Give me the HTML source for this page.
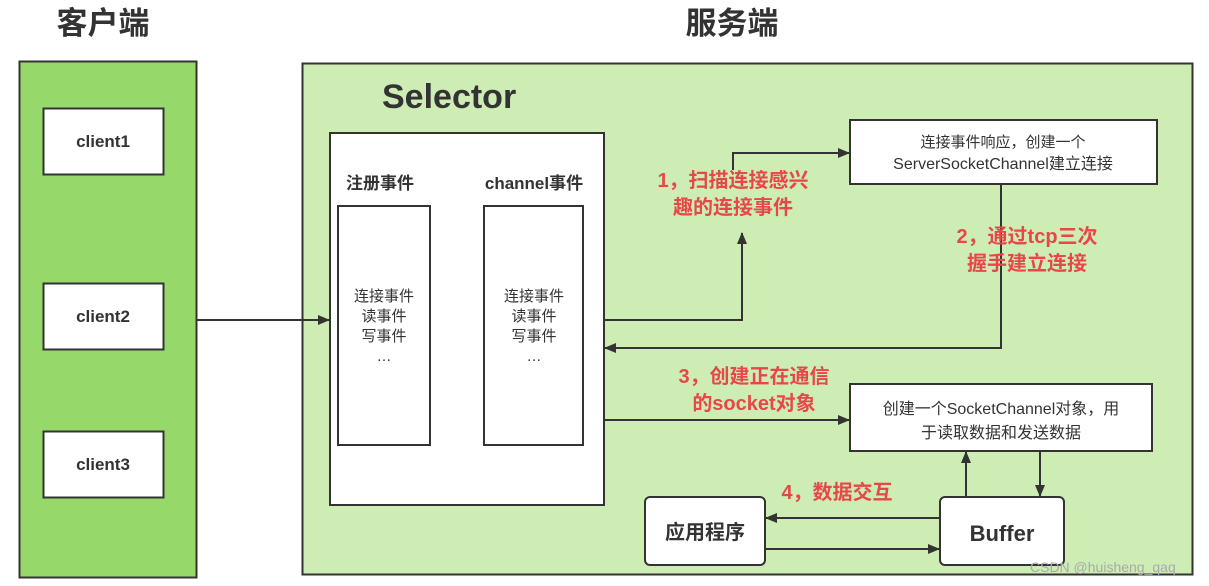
<!DOCTYPE html>
<html><head><meta charset="utf-8"><style>
html,body{margin:0;padding:0;background:#fff;}
svg{display:block;font-family:"Liberation Sans","Noto Sans CJK SC",sans-serif;}
</style></head><body>
<svg width="1209" height="586" viewBox="0 0 1209 586" xmlns="http://www.w3.org/2000/svg">
<defs><marker id="a" markerWidth="12" markerHeight="10" refX="11" refY="5" orient="auto" markerUnits="userSpaceOnUse"><path d="M0,0 L12,5 L0,10 z" fill="#333"/></marker></defs>
<g font-weight="bold" fill="#333">
<text x="103" y="34" font-size="31" text-anchor="middle">客户端</text>
<text x="732" y="34" font-size="31" text-anchor="middle">服务端</text>
</g>
<rect x="19.5" y="61.5" width="177" height="516" fill="#97d86a" stroke="#333" stroke-width="2"/>
<g fill="#fff" stroke="#333" stroke-width="2">
<rect x="43.5" y="108.5" width="120" height="66"/>
<rect x="43.5" y="283.5" width="120" height="66"/>
<rect x="43.5" y="431.5" width="120" height="66"/>
</g>
<g font-size="17" font-weight="bold" fill="#333" text-anchor="middle">
<text x="103" y="147">client1</text><text x="103" y="322">client2</text><text x="103" y="470">client3</text>
</g>
<rect x="302.5" y="63.5" width="890" height="511" fill="#cdedb4" stroke="#333" stroke-width="2"/>
<text x="382" y="108" font-size="34" font-weight="bold" fill="#333">Selector</text>
<rect x="330" y="133" width="274" height="372" fill="#fff" stroke="#333" stroke-width="2"/>
<text x="380" y="189" font-size="17" font-weight="bold" fill="#333" text-anchor="middle">注册事件</text>
<text x="534" y="189" font-size="17" font-weight="bold" fill="#333" text-anchor="middle">channel事件</text>
<rect x="338" y="206" width="92" height="239" fill="#fff" stroke="#333" stroke-width="2"/>
<rect x="484" y="206" width="99" height="239" fill="#fff" stroke="#333" stroke-width="2"/>
<g font-size="15" fill="#333" text-anchor="middle">
<text x="384" y="301">连接事件</text><text x="384" y="321">读事件</text><text x="384" y="341">写事件</text><text x="384" y="361">…</text>
<text x="534" y="301">连接事件</text><text x="534" y="321">读事件</text><text x="534" y="341">写事件</text><text x="534" y="361">…</text>
</g>
<rect x="850" y="120" width="307" height="64" fill="#fff" stroke="#333" stroke-width="2"/>
<text x="1003" y="147" font-size="15" fill="#333" text-anchor="middle">连接事件响应，创建一个</text>
<text x="1003" y="169" font-size="16" fill="#333" text-anchor="middle">ServerSocketChannel建立连接</text>
<rect x="850" y="384" width="302" height="67" fill="#fff" stroke="#333" stroke-width="2"/>
<text x="1001" y="414" font-size="16" fill="#333" text-anchor="middle">创建一个SocketChannel对象，用</text>
<text x="1001" y="438" font-size="16" fill="#333" text-anchor="middle">于读取数据和发送数据</text>
<rect x="645" y="497" width="120" height="68" rx="5" fill="#fff" stroke="#333" stroke-width="2"/>
<text x="705" y="539" font-size="20" font-weight="bold" fill="#333" text-anchor="middle">应用程序</text>
<rect x="940" y="497" width="124" height="68" rx="5" fill="#fff" stroke="#333" stroke-width="2"/>
<text x="1002" y="541" font-size="22" font-weight="bold" fill="#333" text-anchor="middle">Buffer</text>
<g stroke="#333" stroke-width="2" fill="none">
<line x1="197" y1="320" x2="329" y2="320" marker-end="url(#a)"/>
<polyline points="604,320 742,320 742,233" marker-end="url(#a)"/>
<polyline points="733,170 733,153 849,153" marker-end="url(#a)"/>
<polyline points="1001,184 1001,348 605,348" marker-end="url(#a)"/>
<line x1="604" y1="420" x2="849" y2="420" marker-end="url(#a)"/>
<line x1="966" y1="497" x2="966" y2="452" marker-end="url(#a)"/>
<line x1="1040" y1="451" x2="1040" y2="496" marker-end="url(#a)"/>
<line x1="940" y1="518" x2="766" y2="518" marker-end="url(#a)"/>
<line x1="765" y1="549" x2="939" y2="549" marker-end="url(#a)"/>
</g>
<g font-size="20" font-weight="bold" fill="#e8474a" text-anchor="middle">
<text x="733" y="187">1，扫描连接感兴</text><text x="733" y="214">趣的连接事件</text>
<text x="1027" y="243">2，通过tcp三次</text><text x="1027" y="270">握手建立连接</text>
<text x="754" y="383">3，创建正在通信</text><text x="754" y="410">的socket对象</text>
<text x="837" y="499">4，数据交互</text>
</g>
<text x="1030" y="572" font-size="14" fill="#aaa">CSDN @huisheng_qaq</text>
</svg>
</body></html>
